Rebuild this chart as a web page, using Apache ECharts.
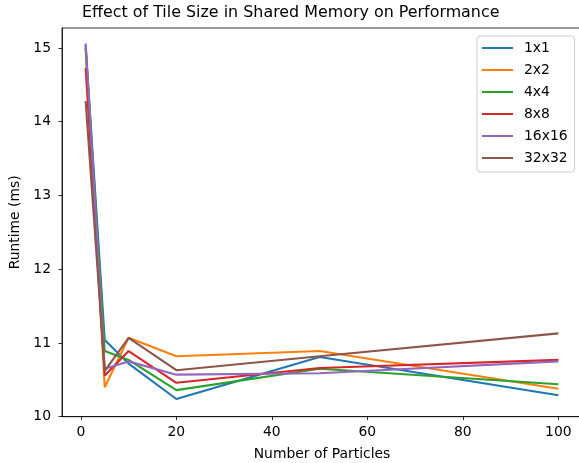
<!DOCTYPE html>
<html>
<head>
<meta charset="utf-8">
<script src="https://cdn.jsdelivr.net/npm/echarts@6/dist/echarts.min.js"></script>
<style>
html,body{margin:0;padding:0;background:#fff;}
#chart{width:579px;height:463px;}
</style>
</head>
<body>
<div id="chart"></div>
<script>
const particles = [1, 5, 10, 20, 50, 100];
const tile1x1   = [15.04, 11.04, 10.72, 10.24, 10.81, 10.29];
const tile2x2   = [15.00, 10.40, 11.07, 10.82, 10.89, 10.38];
const tile4x4   = [15.00, 10.89, 10.77, 10.36, 10.65, 10.44];
const tile8x8   = [14.73, 10.56, 10.89, 10.46, 10.66, 10.77];
const tile16x16 = [15.06, 10.65, 10.75, 10.57, 10.59, 10.75];
const tile32x32 = [14.28, 10.62, 11.07, 10.63, 10.82, 11.13];
const seriesNames = ['1x1', '2x2', '4x4', '8x8', '16x16', '32x32'];
const seriesValues = [tile1x1, tile2x2, tile4x4, tile8x8, tile16x16, tile32x32];
const colors = ['#1f77b4', '#ff7f0e', '#2ca02c', '#d62728', '#9467bd', '#8c564b'];
const xTicks = [0, 20, 40, 60, 80, 100];
const yTicks = [10, 11, 12, 13, 14, 15];

const font = 'DejaVu Sans';
const chart = echarts.init(document.getElementById('chart'), null, {renderer: 'canvas'});
chart.setOption({
  animation: false,
  backgroundColor: '#fff',
  title: {
    text: 'Effect of Tile Size in Shared Memory on Performance',
    left: 82, top: 5, padding: 0,
    textStyle: {fontFamily: font, fontSize: 15.9, fontWeight: 'normal', color: '#000'}
  },
  grid: {
    left: 62, top: 28, width: 520, height: 388.7,
    outerBoundsMode: 'none',
    show: true, borderColor: '#000', borderWidth: 0.8, containLabel: false
  },
  legend: {
    orient: 'vertical', left: 477, top: 36,
    padding: [4, 7, 6, 5],
    itemWidth: 31, itemHeight: 2, itemGap: 6,
    icon: 'rect',
    backgroundColor: '#fff', borderColor: '#cccccc', borderWidth: 1, borderRadius: 3,
    textStyle: {fontFamily: font, fontSize: 13.9, color: '#000', lineHeight: 16, padding: [0, 0, 0, 6]},
    data: seriesNames
  },
  xAxis: {
    type: 'value', min: -3.95, max: 104.95,
    name: 'Number of Particles', nameLocation: 'middle', nameGap: 31,
    nameTextStyle: {fontFamily: font, fontSize: 13.9, color: '#000'},
    axisLine: {show: true, onZero: false, lineStyle: {color: '#000', width: 0.8}},
    axisTick: {show: true, customValues: xTicks, length: 3.5, inside: false, lineStyle: {color: '#000', width: 0.8}},
    axisLabel: {customValues: xTicks, fontFamily: font, fontSize: 13.9, color: '#000', margin: 9},
    splitLine: {show: false}
  },
  yAxis: {
    type: 'value', min: 10, max: 15.27,
    name: 'Runtime (ms)', nameLocation: 'middle', nameGap: 33,
    nameTextStyle: {fontFamily: font, fontSize: 13.9, color: '#000'},
    axisLine: {show: true, onZero: false, lineStyle: {color: '#000', width: 0.8}},
    axisTick: {show: true, customValues: yTicks, length: 3.5, inside: false, lineStyle: {color: '#000', width: 0.8}},
    axisLabel: {customValues: yTicks, fontFamily: font, fontSize: 13.9, color: '#000', margin: 11},
    splitLine: {show: false}
  },
  series: seriesNames.map((n, i) => ({
    name: n, type: 'line', showSymbol: false, symbol: 'none',
    color: colors[i],
    lineStyle: {width: 2.1, color: colors[i]},
    data: particles.map((x, j) => [x, seriesValues[i][j]])
  }))
});
</script>
</body>
</html>
